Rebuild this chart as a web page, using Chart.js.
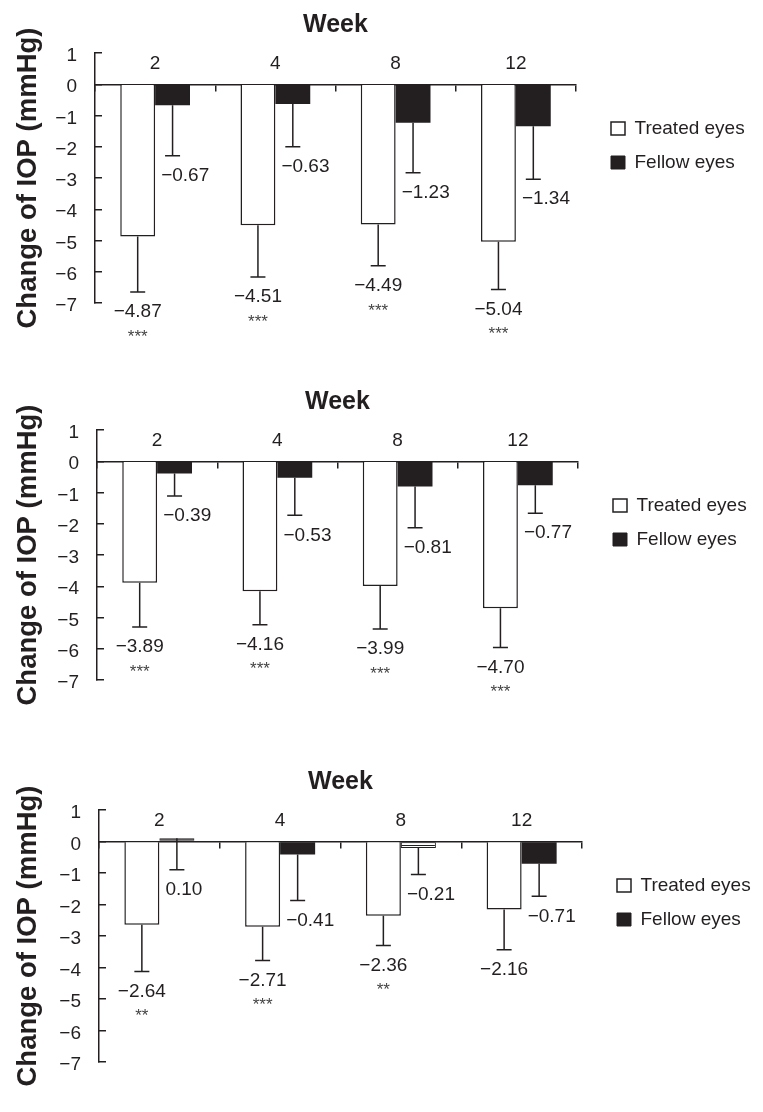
<!DOCTYPE html>
<html>
<head>
<meta charset="utf-8">
<title>Change of IOP</title>
<script src="https://cdn.jsdelivr.net/npm/chart.js@4.4.1/dist/chart.umd.min.js"></script>
<style>
  body { margin: 0; background: #fff; }
  #page { position: relative; width: 763px; height: 1112px; }
  #page canvas { position: absolute; left: 0; }
</style>
</head>
<body>
<div id="page">
  <canvas id="panel1" width="763" height="355" style="top:0px"></canvas>
  <canvas id="panel2" width="763" height="355" style="top:377px"></canvas>
  <canvas id="panel3" width="763" height="355" style="top:757px"></canvas>
</div>
<script>
// week labels and y range
const weeks = ['2', '4', '8', '12'];
const yMin = -7;
const yMax = 1;

// top panel
const treated1 = [-4.87, -4.51, -4.49, -5.04];
const treatedSd1 = [1.78, 1.66, 1.32, 1.53];
const fellow1 = [-0.67, -0.63, -1.23, -1.34];
const fellowSd1 = [1.62, 1.37, 1.60, 1.70];
const stars1 = ['***', '***', '***', '***'];

// middle panel
const treated2 = [-3.89, -4.16, -3.99, -4.70];
const treatedSd2 = [1.41, 1.07, 1.38, 1.26];
const fellow2 = [-0.39, -0.53, -0.81, -0.77];
const fellowSd2 = [0.72, 1.20, 1.32, 0.89];
const stars2 = ['***', '***', '***', '***'];

// bottom panel
const treated3 = [-2.64, -2.71, -2.36, -2.16];
const treatedSd3 = [1.49, 1.07, 0.94, 1.28];
const fellow3 = [0.10, -0.41, -0.21, -0.71];
const fellowSd3 = [1.00, 1.46, 0.84, 1.03];
const stars3 = ['**', '***', '**', ''];

const INK = '#231f20';
const FONT = '"Liberation Sans", Arial, Helvetica, sans-serif';
const LEGEND_SIZE = 19;

Chart.defaults.font.family = FONT;
Chart.defaults.color = INK;
Chart.defaults.animation = false;

const minus = (s) => '\u2212' + s;
const fmtTick = (v) => (v < 0 ? minus(-v) : String(v));
const fmtValue = (v) => (v < 0 ? minus(Math.abs(v).toFixed(2)) : v.toFixed(2));

// SD whiskers, drawn downwards from the end of each bar
const errorBars = {
  id: 'errorBars',
  afterDatasetsDraw(chart) {
    const { ctx } = chart;
    const y = chart.scales.y;
    ctx.save();
    ctx.strokeStyle = INK;
    ctx.lineWidth = 1.5;
    chart.data.datasets.forEach((ds, i) => {
      chart.getDatasetMeta(i).data.forEach((bar, j) => {
        const v = ds.data[j];
        const y0 = y.getPixelForValue(v);
        const y1 = y.getPixelForValue(v - ds.sd[j]);
        ctx.beginPath();
        ctx.moveTo(bar.x, y0);
        ctx.lineTo(bar.x, y1);
        ctx.moveTo(bar.x - 7.5, y1);
        ctx.lineTo(bar.x + 7.5, y1);
        ctx.stroke();
      });
    });
    ctx.restore();
  }
};

// mean values under the whiskers + significance stars
const valueLabels = {
  id: 'valueLabels',
  afterDatasetsDraw(chart) {
    const { ctx } = chart;
    const y = chart.scales.y;
    ctx.save();
    ctx.fillStyle = INK;
    ctx.textBaseline = 'middle';
    chart.data.datasets.forEach((ds, i) => {
      chart.getDatasetMeta(i).data.forEach((bar, j) => {
        const v = ds.data[j];
        const yEnd = y.getPixelForValue(v - ds.sd[j]);
        const yText = yEnd + 20;
        ctx.font = '19px ' + FONT;
        if (i === 0) {
          ctx.textAlign = 'center';
          ctx.fillText(fmtValue(v), bar.x, yText);
        } else {
          ctx.textAlign = 'left';
          ctx.fillText(fmtValue(v), bar.x - bar.width / 2 + 6, yText);
        }
        if (ds.stars && ds.stars[j]) {
          ctx.font = '17px ' + FONT;
          ctx.textAlign = 'center';
          ctx.fillStyle = '#444';
          ctx.fillText(ds.stars[j], bar.x, yText + 25);
          ctx.fillStyle = INK;
        }
      });
    });
    ctx.restore();
  }
};

// legend sits a bit away from the plot, near its upper part
const legendSpot = {
  id: 'legendSpot',
  afterLayout(chart) {
    const lg = chart.legend;
    const area = chart.chartArea;
    lg.left = area.right + 20;
    lg.right = lg.left + lg.width;
    lg.top = area.top + 51;
    lg.bottom = lg.top + lg.height;
  }
};

// width the right-hand legend will take (padding + box + gap + text + 10)
function legendWidth() {
  const g = document.createElement('canvas').getContext('2d');
  g.font = LEGEND_SIZE + 'px ' + FONT;
  const text = Math.max(g.measureText('Treated eyes').width, g.measureText('Fellow eyes').width);
  return 15 + 14 + LEGEND_SIZE / 2 + text + 10;
}

function stripes(canvas) {
  const tile = document.createElement('canvas');
  tile.width = 8;
  tile.height = 3;
  const g = tile.getContext('2d');
  g.fillStyle = '#fff';
  g.fillRect(0, 0, 8, 3);
  g.fillStyle = INK;
  g.fillRect(0, 1, 8, 1);
  return canvas.getContext('2d').createPattern(tile, 'repeat');
}

function drawPanel(id, treated, treatedSd, fellow, fellowSd, stars, frame) {
  const canvas = document.getElementById(id);
  const hatch = stripes(canvas);
  const hatched = frame.hatched || [];
  const rightPad = canvas.width - frame.right - legendWidth();

  return new Chart(canvas, {
    type: 'bar',
    data: {
      labels: weeks,
      datasets: [{
        label: 'Treated eyes',
        data: treated,
        sd: treatedSd,
        stars: stars,
        backgroundColor: '#ffffff',
        borderColor: INK,
        borderWidth: 1.5
      }, {
        label: 'Fellow eyes',
        data: fellow,
        sd: fellowSd,
        backgroundColor: (c) => (hatched.includes(c.dataIndex) ? hatch : INK),
        borderColor: INK,
        borderWidth: (c) => (hatched.includes(c.dataIndex) ? 1 : 0),
        borderSkipped: (c) => (hatched.includes(c.dataIndex) ? false : 'start')
      }]
    },
    options: {
      responsive: false,
      devicePixelRatio: 1,
      layout: { padding: { top: 0, left: 0, right: rightPad, bottom: frame.bottomPad } },
      datasets: { bar: { categoryPercentage: 0.58, barPercentage: 1.0 } },
      scales: {
        x: {
          position: { y: 0 },
          z: 1,
          grid: { offset: true, drawOnChartArea: false, drawTicks: true, tickLength: 6, color: INK, lineWidth: 1.5 },
          border: { display: true, color: INK, width: 1.5 },
          ticks: { padding: -38, color: INK, maxRotation: 0, font: { size: 19 } }
        },
        y: {
          min: yMin,
          max: yMax,
          z: 1,
          afterFit(scale) { scale.width = frame.left; },
          grid: { drawOnChartArea: false, drawTicks: true, tickLength: -7, color: INK, lineWidth: 1.5 },
          border: { display: true, color: INK, width: 1.5 },
          ticks: { stepSize: 1, padding: 25, labelOffset: 3, color: INK, font: { size: 19 }, callback: fmtTick },
          title: {
            display: true,
            text: 'Change of IOP (mmHg)',
            color: INK,
            font: { size: 27.5, weight: 'bold' },
            padding: { top: 12, bottom: 0 }
          }
        }
      },
      plugins: {
        title: {
          display: true,
          text: 'Week',
          fullSize: false,
          color: INK,
          font: { size: 25, weight: 'bold' },
          padding: { top: 10, bottom: 13 }
        },
        legend: {
          position: 'right',
          align: 'start',
          labels: {
            boxWidth: 14,
            boxHeight: 13,
            padding: 15,
            color: INK,
            font: { size: LEGEND_SIZE },
            generateLabels(chart) {
              const items = Chart.defaults.plugins.legend.labels.generateLabels(chart);
              // the fellow-eye key is always solid, whatever the small bars show
              items[1].fillStyle = INK;
              items[1].strokeStyle = INK;
              items[1].lineWidth = 1;
              return items;
            }
          }
        },
        tooltip: { enabled: false }
      }
    },
    plugins: [errorBars, valueLabels, legendSpot]
  });
}

drawPanel('panel1', treated1, treatedSd1, fellow1, fellowSd1, stars1,
  { left: 95, right: 576, bottomPad: 52 });
drawPanel('panel2', treated2, treatedSd2, fellow2, fellowSd2, stars2,
  { left: 97, right: 578, bottomPad: 52 });
drawPanel('panel3', treated3, treatedSd3, fellow3, fellowSd3, stars3,
  { left: 99, right: 582, bottomPad: 50, hatched: [0, 2] });
</script>
</body>
</html>
